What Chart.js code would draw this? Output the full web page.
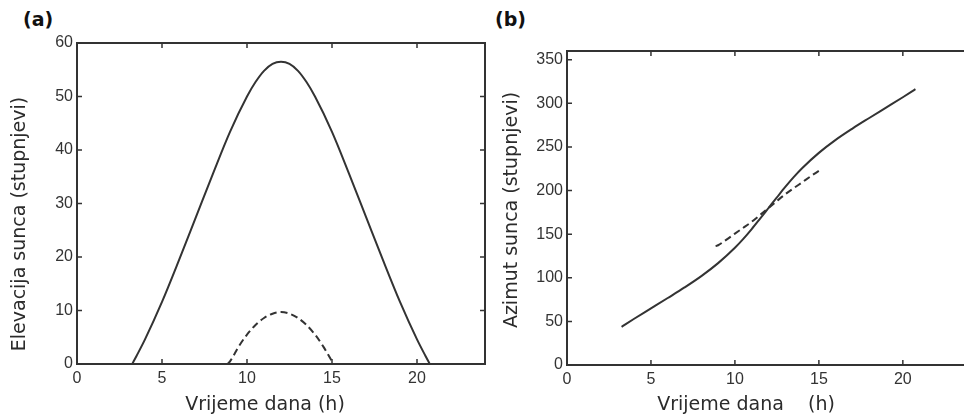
<!DOCTYPE html>
<html>
<head>
<meta charset="utf-8">
<script src="https://cdn.jsdelivr.net/npm/chart.js@4.4.1/dist/chart.umd.min.js"></script>
<style>
    html, body { margin: 0; padding: 0; width: 964px; height: 420px; overflow: hidden; background: #fff; }
    canvas { position: absolute; top: 0; }
    #grafA { left: 0; }
    #grafB { left: 487px; }
    .oznaka { position: absolute; top: 9px; font: bold 19px "DejaVu Sans"; line-height: 20px; color: #111; }
</style>
</head>
<body>
<div class="oznaka" style="left:23px">(a)</div>
<div class="oznaka" style="left:495px">(b)</div>
<canvas id="grafA" width="487" height="420"></canvas>
<canvas id="grafB" width="490" height="420"></canvas>
<script>
// Ljeto (puna linija)
const vrijemeLjeto = [3.25, 3.5, 4, 5, 6, 7, 8, 9, 10, 10.5, 11, 11.5, 12, 12.5, 13, 13.5, 14, 15, 16, 17, 18, 19, 20, 20.5, 20.75];
const elevacijaLjeto = [0, 1.5, 4.6, 11.6, 19.4, 27.5, 35.6, 43.4, 50.0, 52.7, 54.8, 56.1, 56.5, 56.1, 54.8, 52.7, 50.0, 43.4, 35.6, 27.5, 19.4, 11.6, 4.6, 1.5, 0];
const azimutLjeto = [43.8, 46.9, 53.0, 64.9, 76.8, 88.9, 101.9, 116.8, 134.4, 144.6, 155.8, 167.8, 180, 192.2, 204.2, 215.4, 225.6, 243.2, 258.1, 271.1, 283.2, 295.1, 307.0, 313.1, 316.2];

// Zima (isprekidana linija)
const vrijemeZima = [8.85, 9, 9.5, 10, 10.5, 11, 11.5, 12, 12.5, 13, 13.5, 14, 14.5, 15, 15.1];
const elevacijaZima = [0, 0.5, 3.2, 5.5, 7.3, 8.6, 9.4, 9.7, 9.4, 8.6, 7.3, 5.5, 3.2, 0.5, 0];
const azimutZima = [136.2, 137.3, 143.8, 150.6, 157.3, 164.2, 172.0, 180, 188.0, 195.8, 202.7, 209.4, 216.2, 222.7, 223.8];

// Oznake na osima
const satiTicks = [0, 5, 10, 15, 20];
const elevacijaTicks = [0, 10, 20, 30, 40, 50, 60];
const azimutTicks = [0, 50, 100, 150, 200, 250, 300, 350];

const boja = '#333';
const fontTick = { family: 'Liberation Sans', size: 16 };

function tocke(xs, ys) {
    return xs.map((x, i) => ({ x: x, y: ys[i] }));
}

// Okvir (kao u MATLAB-u), unutarnje crtice i naslovi osi
const okvir = {
    id: 'okvir',
    afterDatasetsDraw(chart) {
        const { ctx, chartArea: a, scales } = chart;
        const n = chart.options.plugins.okvir;
        ctx.save();
        ctx.strokeStyle = boja;
        ctx.lineWidth = 2;
        ctx.strokeRect(a.left, a.top, a.right - a.left, a.bottom - a.top);

        ctx.lineWidth = 1.5;
        ctx.beginPath();
        scales.x.ticks.forEach(t => {
            const px = scales.x.getPixelForValue(t.value);
            ctx.moveTo(px, a.bottom); ctx.lineTo(px, a.bottom - 5);
            ctx.moveTo(px, a.top); ctx.lineTo(px, a.top + 5);
        });
        scales.y.ticks.forEach(t => {
            const py = scales.y.getPixelForValue(t.value);
            ctx.moveTo(a.left, py); ctx.lineTo(a.left + 5, py);
            ctx.moveTo(a.right, py); ctx.lineTo(a.right - 5, py);
        });
        ctx.stroke();

        ctx.fillStyle = '#2b2b2b';
        ctx.font = '19px "DejaVu Sans"';
        ctx.textAlign = 'center';
        ctx.textBaseline = 'middle';
        ctx.fillText(n.xNaslov, n.xPoz[0], n.xPoz[1]);
        ctx.translate(n.yPoz[0], n.yPoz[1]);
        ctx.rotate(-Math.PI / 2);
        ctx.fillText(n.yNaslov, 0, 0);
        ctx.restore();
    }
};

function napraviGraf(id, ljeto, zima, yMax, yTicks, cfg) {
    const ctx = document.getElementById(id).getContext('2d');
    return new Chart(ctx, {
        type: 'line',
        data: {
            datasets: [{
                data: ljeto,
                borderColor: boja,
                borderWidth: 2,
                pointRadius: 0,
                cubicInterpolationMode: 'monotone'
            }, {
                data: zima,
                borderColor: boja,
                borderWidth: 2,
                borderDash: [7, 4],
                pointRadius: 0,
                cubicInterpolationMode: 'monotone'
            }]
        },
        options: {
            responsive: false,
            animation: false,
            layout: { padding: cfg.padding },
            plugins: {
                legend: { display: false },
                tooltip: { enabled: false },
                okvir: cfg.naslovi
            },
            scales: {
                x: {
                    type: 'linear',
                    min: 0,
                    max: 24,
                    afterBuildTicks: s => { s.ticks = satiTicks.map(v => ({ value: v })); },
                    afterFit: s => { s.height = cfg.xVisina; },
                    grid: { display: false, drawTicks: false },
                    border: { display: false },
                    ticks: { color: boja, font: fontTick, padding: 5, maxRotation: 0 }
                },
                y: {
                    min: 0,
                    max: yMax,
                    afterBuildTicks: s => { s.ticks = yTicks.map(v => ({ value: v })); },
                    afterFit: s => { s.width = cfg.ySirina; },
                    grid: { display: false, drawTicks: false },
                    border: { display: false },
                    ticks: { color: boja, font: fontTick, padding: 4 }
                }
            }
        },
        plugins: [okvir]
    });
}

// (a) Elevacija
napraviGraf('grafA', tocke(vrijemeLjeto, elevacijaLjeto), tocke(vrijemeZima, elevacijaZima), 60, elevacijaTicks, {
    padding: { top: 43, right: 2, left: 0, bottom: 0 },
    xVisina: 56,
    ySirina: 77,
    naslovi: { xNaslov: 'Vrijeme dana (h)', xPoz: [265, 405], yNaslov: 'Elevacija sunca (stupnjevi)', yPoz: [20, 224] }
});

// (b) Azimut
napraviGraf('grafB', tocke(vrijemeLjeto, azimutLjeto), tocke(vrijemeZima, azimutZima), 360, azimutTicks, {
    padding: { top: 51, right: 7, left: 0, bottom: 0 },
    xVisina: 55,
    ySirina: 80,
    naslovi: { xNaslov: 'Vrijeme dana    (h)', xPoz: [259, 405], yNaslov: 'Azimut sunca (stupnjevi)', yPoz: [25, 210] }
});
</script>
</body>
</html>
